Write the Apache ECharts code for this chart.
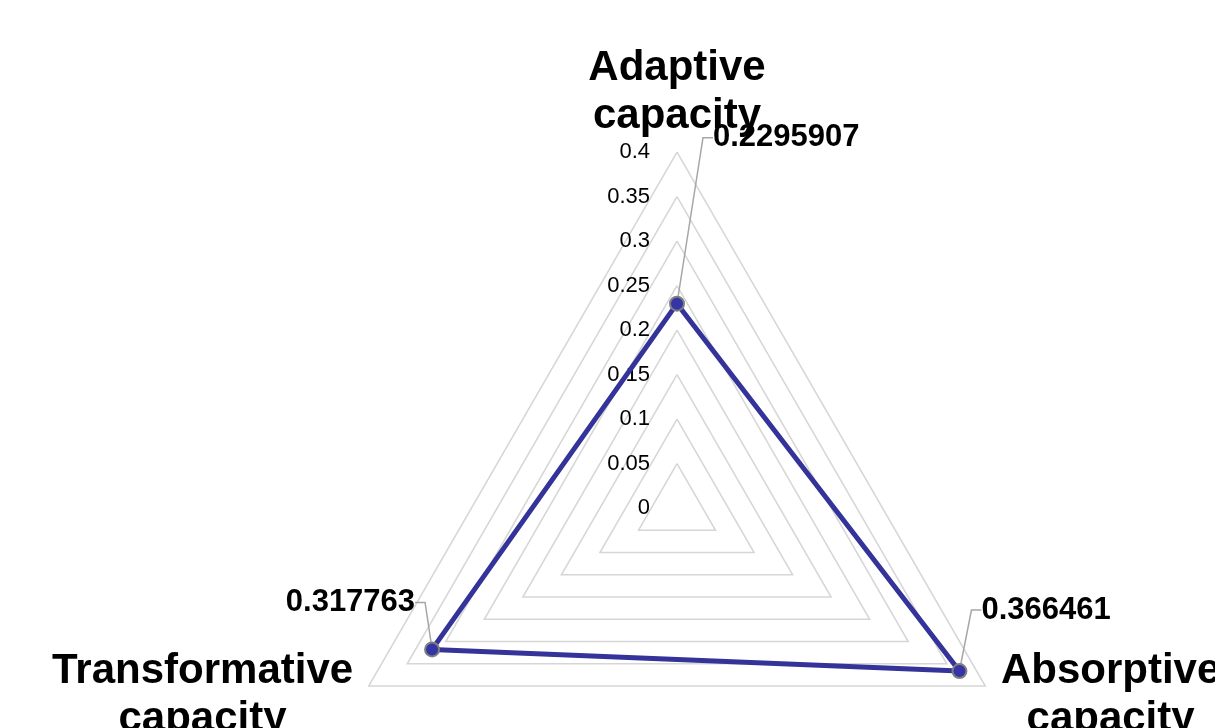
<!DOCTYPE html>
<html>
<head>
<meta charset="utf-8">
<style>
  html, body { margin: 0; padding: 0; background: #ffffff; }
  #chart { width: 1215px; height: 728px; }
</style>
<script src="https://cdn.jsdelivr.net/npm/echarts@6/dist/echarts.min.js"></script>
</head>
<body>
<div id="chart"></div>
<script>
// Capacity dimensions, listed in the radar's drawing order (top, lower left, lower right)
const CATEGORIES = ['Adaptive capacity', 'Transformative capacity', 'Absorptive capacity'];
const VALUES = [0.2295907, 0.317763, 0.366461];
const AXIS_MIN = 0;
const AXIS_MAX = 0.4;
const AXIS_STEPS = 8; // 0, 0.05, ... 0.4

const FONT = '"Liberation Sans", Arial, sans-serif';
const LINE_COLOR = '#333399';

// Distance of each dimension name from the outer ring
const NAME_GAPS = [12, 18, 18];

// Where each value callout sits relative to its point
const CALLOUT = [
  { dx: 28, dy: -166, align: 'left' },
  { dx: -9, dy: -47, align: 'right' },
  { dx: 14, dy: -61, align: 'left' }
];
const VALUE_TEXT = VALUES.map(String);

const chart = echarts.init(document.getElementById('chart'), null, { renderer: 'canvas' });

chart.setOption({
  backgroundColor: '#ffffff',
  animation: false,
  radar: {
    center: [677, 508],
    radius: 356,
    startAngle: 90,
    shape: 'polygon',
    splitNumber: AXIS_STEPS,
    indicator: CATEGORIES.map((name, i) => ({
      name: name,
      min: AXIS_MIN,
      max: AXIS_MAX,
      nameGap: NAME_GAPS[i],
      axisLabel: { show: i === 0 }
    })),
    nameGap: 12,
    axisName: {
      formatter: (name) => name.split(' ').map(w => '{n|' + w + '}').join('\n'),
      color: '#000000',
      fontFamily: FONT,
      fontSize: 42,
      fontWeight: 'bold',
      lineHeight: 48,
      rich: {
        n: {
          align: 'center',
          color: '#000000',
          fontFamily: FONT,
          fontSize: 42,
          fontWeight: 'bold',
          lineHeight: 48
        }
      }
    },
    axisLine: { show: false },
    axisTick: { show: false },
    splitArea: { show: false },
    splitLine: { lineStyle: { color: '#d6d6d6', width: 1.5 } },
    axisLabel: {
      show: true,
      margin: 27,
      color: '#000000',
      fontFamily: FONT,
      fontSize: 22
    }
  },
  series: [{
    type: 'radar',
    symbol: 'circle',
    symbolSize: 14,
    lineStyle: { color: LINE_COLOR, width: 5 },
    itemStyle: { color: '#3535a6', borderColor: '#7f7f7f', borderWidth: 2 },
    label: {
      show: true,
      color: '#000000',
      fontFamily: FONT,
      fontSize: 31,
      fontWeight: 'bold',
      padding: [0, 8]
    },
    labelLine: {
      show: true,
      length2: 10,
      lineStyle: { color: '#a6a6a6', width: 1.5 }
    },
    labelLayout: function (p) {
      const i = VALUE_TEXT.indexOf(String(p.text));
      const c = CALLOUT[i < 0 ? 0 : i];
      const cx = p.rect.x + p.rect.width / 2;
      const cy = p.rect.y + p.rect.height / 2;
      return { x: cx + c.dx, y: cy + c.dy, align: c.align, verticalAlign: 'middle' };
    },
    data: [{ value: VALUES, name: 'Capacity' }]
  }]
});
</script>
</body>
</html>
